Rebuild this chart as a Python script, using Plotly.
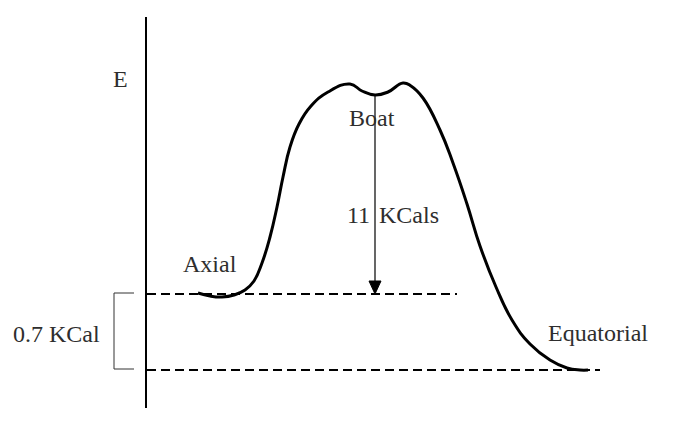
import plotly.graph_objects as go

# Energy profile (x: reaction coordinate, y: drawing units growing downward)
curve_x = [198, 210, 222, 234, 245, 254, 262, 270, 277, 283, 290, 299, 311, 328, 350,
           362, 375, 388, 403, 411, 423, 440, 453, 467, 480, 496, 512,
           530, 550, 567, 580, 588]
curve_y = [293, 296, 297, 295, 290, 281, 263, 237, 207, 177, 147, 124, 106, 92, 84,
           91, 95, 92, 83, 86, 98, 130, 163, 204, 246, 287, 320,
           344, 360, 368, 370, 370]

axial_level = 294
equatorial_level = 370
boat_level = 95
boat_x = 375

axis_x = 146
axis_top = 17
axis_bottom = 408

upper_dash_x = [147, 457]
lower_dash_x = [147, 600]

bracket_x = [134, 114, 114, 134]
bracket_y = [axial_level - 1, axial_level - 1, equatorial_level - 1, equatorial_level - 1]

labels = ["E", "Boat", "Axial", "0.7 KCal", "Equatorial"]
label_x = [120, 372, 210, 56, 598]
label_y = [79, 118, 264, 334, 333]

font = dict(family="Liberation Serif, Times New Roman, serif", size=24, color="#2e2e2e")

# the page body has an 8px margin; shift the drawing so coordinates match the window
OFF = 8
W, H = 685, 437

fig = go.Figure()

fig.add_trace(go.Scatter(x=[axis_x, axis_x], y=[axis_top, axis_bottom], mode="lines",
                         line=dict(color="black", width=2), hoverinfo="skip"))
fig.add_trace(go.Scatter(x=upper_dash_x, y=[axial_level, axial_level], mode="lines",
                         line=dict(color="black", width=2, dash="9px,5px"), hoverinfo="skip"))
fig.add_trace(go.Scatter(x=lower_dash_x, y=[equatorial_level, equatorial_level], mode="lines",
                         line=dict(color="black", width=2, dash="9px,5px"), hoverinfo="skip"))
fig.add_trace(go.Scatter(x=bracket_x, y=bracket_y, mode="lines",
                         line=dict(color="#333333", width=1), hoverinfo="skip"))
fig.add_trace(go.Scatter(x=curve_x, y=curve_y, mode="lines",
                         line=dict(color="black", width=3, shape="spline", smoothing=1.3),
                         hoverinfo="skip"))
fig.add_trace(go.Scatter(x=[boat_x, boat_x], y=[boat_level, axial_level - 10], mode="lines",
                         line=dict(color="black", width=1.2), hoverinfo="skip"))
fig.add_trace(go.Scatter(x=[boat_x - 6, boat_x + 6, boat_x, boat_x - 6],
                         y=[axial_level - 13, axial_level - 13, axial_level, axial_level - 13],
                         mode="lines", fill="toself", fillcolor="black",
                         line=dict(color="black", width=1), hoverinfo="skip"))

for t, x, y in zip(labels, label_x, label_y):
    fig.add_annotation(x=x, y=y, text=t, showarrow=False, font=font,
                       xanchor="center", yanchor="middle")
fig.add_annotation(x=boat_x - 3, y=215, text="11", showarrow=False, font=font,
                   xanchor="right", yanchor="middle")
fig.add_annotation(x=boat_x + 2, y=215, text="KCals", showarrow=False, font=font,
                   xanchor="left", yanchor="middle")

fig.update_layout(
    width=W - OFF, height=H - OFF,
    margin=dict(l=0, r=0, t=0, b=0),
    paper_bgcolor="white", plot_bgcolor="white",
    showlegend=False,
    xaxis=dict(range=[OFF, W], visible=False, fixedrange=True),
    yaxis=dict(range=[H, OFF], visible=False, fixedrange=True),
)

fig.write_html("out.html")
